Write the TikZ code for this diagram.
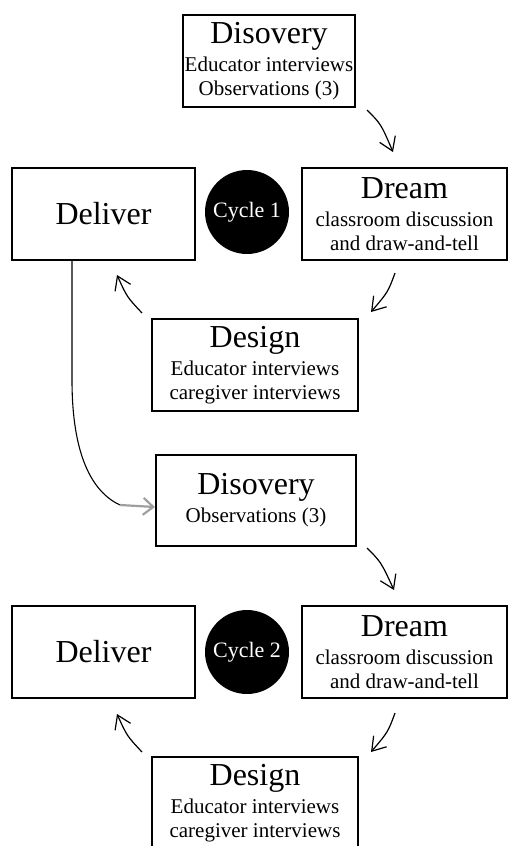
\documentclass[tikz,border=0pt]{standalone}
\usepackage{fontspec}
\setmainfont{Liberation Serif}
\usetikzlibrary{arrows.meta}
\begin{document}
\begin{tikzpicture}[x=1pt,y=-1pt,
  box/.style={draw, line width=2.2pt, rectangle, align=center, inner sep=0pt,
    font=\fontsize{21}{24}\selectfont},
  cyc/.style={circle, fill=black, text=white, minimum size=84pt, inner sep=0pt,
    font=\fontsize{22}{24}\selectfont},
  arr/.style={line width=1.2pt, -{Straight Barb[length=13pt,width=17pt,line width=1.2pt]}}]
\useasboundingbox (0,0) rectangle (509,846);
\newcommand{\ttlf}[1]{{\fontsize{32}{32}\selectfont #1}}
% Cycle 1
\node[box, minimum width=172pt, minimum height=92pt] (disc1) at (269,61)
  {\ttlf{Disovery}\\[4pt] Educator interviews\\ Observations (3)};
\node[box, minimum width=205pt, minimum height=92pt] (dream1) at (404.5,214)
  {\ttlf{Dream}\\[4pt] classroom discussion\\ and draw-and-tell};
\node[box, minimum width=183pt, minimum height=92pt] (deliv1) at (103.5,214)
  {\ttlf{Deliver}};
\node[cyc] (cyc1) at (247,212) {Cycle 1};
\node[box, minimum width=206pt, minimum height=92pt] (design1) at (255,365)
  {\ttlf{Design}\\[4pt] Educator interviews\\ caregiver interviews};
% Cycle 2
\node[box, minimum width=200pt, minimum height=91pt] (disc2) at (256,500.5)
  {\ttlf{Disovery}\\[4pt] Observations (3)};
\node[box, minimum width=205pt, minimum height=92pt] (dream2) at (404.5,652)
  {\ttlf{Dream}\\[4pt] classroom discussion\\ and draw-and-tell};
\node[box, minimum width=183pt, minimum height=92pt] (deliv2) at (103.5,652)
  {\ttlf{Deliver}};
\node[cyc] (cyc2) at (247,652) {Cycle 2};
\node[box, minimum width=206pt, minimum height=92pt] (design2) at (255,803)
  {\ttlf{Design}\\[4pt] Educator interviews\\ caregiver interviews};
% arrow end points
\coordinate (a1s) at (367,110); \coordinate (a1e) at (393,152);
\coordinate (a2s) at (395,273); \coordinate (a2e) at (371,312);
\coordinate (a3s) at (142,313); \coordinate (a3e) at (117,275);
\coordinate (a4s) at (367,548); \coordinate (a4e) at (394,590);
\coordinate (a5s) at (395,713); \coordinate (a5e) at (371,752);
\coordinate (a6s) at (142,752); \coordinate (a6e) at (117,714);
\draw[arr] (a1s) .. controls (381,124) .. (a1e);
\draw[arr] (a2s) .. controls (388,292) .. (a2e);
\draw[arr] (a3s) .. controls (127,297) .. (a3e);
\draw[arr] (a4s) .. controls (381,562) .. (a4e);
\draw[arr] (a5s) .. controls (388,732) .. (a5e);
\draw[arr] (a6s) .. controls (127,736) .. (a6e);
% long connector from Deliver 1 to Disovery 2
\coordinate (lc) at (120,505);
\draw[line width=1.1pt] (deliv1.south -| 72,0) -- (72,380) .. controls (72,455) and (92,492) .. (lc);
\draw[line width=2.2pt, gray!75, -{Straight Barb[length=10pt,width=17pt,line width=2.2pt]}]
  (lc) -- (disc2.west |- 0,507) ;
\end{tikzpicture}
\end{document}
